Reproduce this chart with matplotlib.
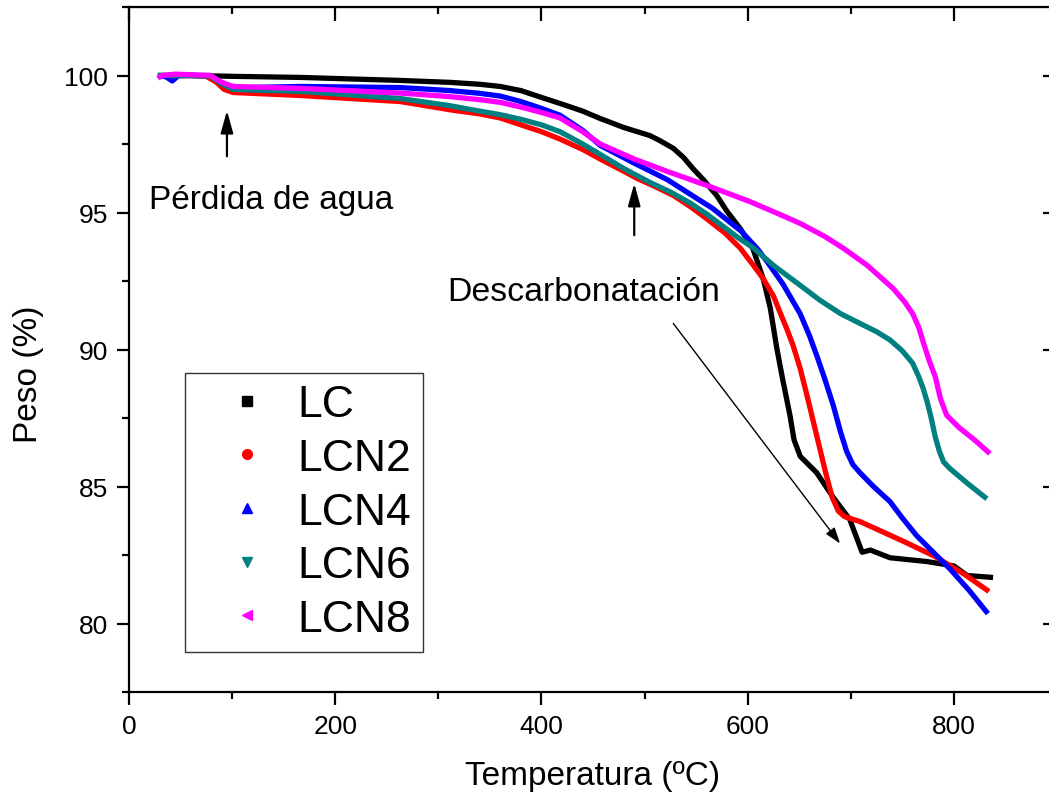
import matplotlib
matplotlib.use("Agg")
import matplotlib.pyplot as plt
from matplotlib.lines import Line2D
from matplotlib.ticker import MultipleLocator

plt.rcParams["font.family"] = ["Liberation Sans", "DejaVu Sans"]

# ----------- data -----------
lc_x = [28, 60, 100, 166, 263, 311, 340, 360, 380, 400, 418, 440, 457, 480, 505, 515, 528,
        538, 547, 557, 570, 580, 593, 605, 615, 622, 628, 634, 641, 645, 651, 667, 683,
        699, 705, 711, 719, 738, 774, 800, 813, 838]
lc_y = [100.0, 100.0, 99.97, 99.93, 99.82, 99.75, 99.68, 99.6, 99.45, 99.2, 98.98, 98.7,
        98.43, 98.1, 97.81, 97.62, 97.34, 97.0, 96.6, 96.2, 95.62, 95.04, 94.4, 93.69,
        92.59, 91.5, 90.1, 88.9, 87.6, 86.7, 86.1, 85.5, 84.6, 83.8, 83.2, 82.6, 82.68,
        82.4, 82.26, 82.1, 81.75, 81.68]

lcn2_x = [28, 60, 75, 85, 92, 101, 166, 263, 311, 340, 360, 380, 400, 418, 440, 457, 475,
          493, 510, 528, 545, 560, 578, 593, 605, 615, 625, 631, 638, 644, 651, 659, 667,
          675, 682, 688, 694, 709, 751, 780, 810, 834]
lcn2_y = [100.0, 100.0, 99.97, 99.75, 99.5, 99.38, 99.27, 99.05, 98.75, 98.6, 98.45, 98.2,
          97.95, 97.68, 97.3, 96.95, 96.6, 96.24, 95.95, 95.62, 95.2, 94.78, 94.25, 93.69,
          93.1, 92.59, 91.95, 91.39, 90.75, 90.15, 89.3, 88.1, 86.85, 85.6, 84.6, 84.1,
          83.9, 83.72, 83.0, 82.48, 81.8, 81.17]

lcn4_x = [28, 36, 42, 48, 79, 90, 101, 166, 263, 311, 340, 360, 380, 400, 418, 440, 457,
          490, 522, 545, 566, 594, 610, 619, 634, 651, 660, 667, 675, 683, 690, 696, 702,
          709, 722, 738, 750, 764, 780, 796, 815, 833]
lcn4_y = [100.0, 99.95, 99.8, 100.0, 100.0, 99.7, 99.55, 99.6, 99.56, 99.45, 99.35, 99.25,
          99.05, 98.8, 98.55, 98.0, 97.45, 96.8, 96.2, 95.65, 95.15, 94.31, 93.65, 93.2,
          92.4, 91.3, 90.5, 89.78, 88.9, 87.96, 87.0, 86.28, 85.8, 85.5, 85.0, 84.45,
          83.85, 83.2, 82.6, 82.0, 81.2, 80.36]

lcn6_x = [28, 60, 79, 90, 101, 166, 263, 311, 340, 360, 380, 400, 418, 440, 457, 480, 505,
          525, 544, 560, 576, 590, 605, 625, 651, 670, 690, 709, 725, 738, 750, 760, 766,
          770, 774, 778, 782, 786, 790, 796, 812, 832]
lcn6_y = [100.0, 100.0, 99.98, 99.7, 99.49, 99.42, 99.16, 98.9, 98.7, 98.57, 98.4, 98.2,
          97.95, 97.5, 97.12, 96.6, 96.1, 95.75, 95.35, 94.95, 94.5, 94.1, 93.72, 93.07,
          92.34, 91.8, 91.31, 90.95, 90.65, 90.35, 89.95, 89.5, 89.0, 88.6, 88.1, 87.5,
          86.8, 86.28, 85.9, 85.66, 85.15, 84.55]

lcn8_x = [28, 32, 45, 79, 90, 101, 166, 263, 311, 340, 360, 380, 400, 418, 440, 457, 490,
          522, 561, 602, 630, 651, 675, 693, 716, 741, 752, 760, 766, 770, 776, 782, 787,
          793, 805, 820, 835]
lcn8_y = [99.9, 100.0, 100.05, 100.0, 99.75, 99.6, 99.53, 99.36, 99.23, 99.12, 99.02,
          98.85, 98.65, 98.45, 97.95, 97.5, 96.95, 96.5, 95.98, 95.4, 94.95, 94.6, 94.12,
          93.69, 93.07, 92.23, 91.75, 91.31, 90.8, 90.3, 89.6, 89.0, 88.2, 87.6, 87.15,
          86.7, 86.2]

labels = ["LC", "LCN2", "LCN4", "LCN6", "LCN8"]
colors = ["#000000", "#ff0000", "#0000ff", "#008080", "#ff00ff"]
markers = ["s", "o", "^", "v", "<"]

# ----------- plotting -----------
fig = plt.figure(figsize=(10.49, 8.04), dpi=100)
ax = fig.add_axes([129 / 1049, 111 / 804, 928 / 1049, 685 / 804])

series = [(lc_x, lc_y), (lcn2_x, lcn2_y), (lcn4_x, lcn4_y), (lcn6_x, lcn6_y), (lcn8_x, lcn8_y)]
for (xs, ys), c in zip(series, colors):
    ax.plot(xs, ys, color=c, lw=3.8, solid_capstyle="butt", solid_joinstyle="round")

ax.set_xlim(0, 900)
ax.set_ylim(77.5, 102.5)
ax.xaxis.set_major_locator(MultipleLocator(200))
ax.xaxis.set_minor_locator(MultipleLocator(100))
ax.yaxis.set_major_locator(MultipleLocator(5))
ax.yaxis.set_minor_locator(MultipleLocator(2.5))

for s in ax.spines.values():
    s.set_linewidth(1.6)
ax.tick_params(which="both", direction="out", width=1.6, labelsize=19,
               top=False, right=False)
ax.tick_params(which="major", length=9)
ax.tick_params(which="minor", length=5)
ax.tick_params(axis="x", pad=7)
ax.tick_params(axis="y", pad=6)

# inward ticks on top / right
ax2 = ax.secondary_xaxis("top")
ax2.xaxis.set_major_locator(MultipleLocator(200))
ax2.xaxis.set_minor_locator(MultipleLocator(100))
ax2.tick_params(which="both", direction="in", width=1.6, labeltop=False)
ax2.tick_params(which="major", length=10)
ax2.tick_params(which="minor", length=5)
ax3 = ax.secondary_yaxis("right")
ax3.yaxis.set_major_locator(MultipleLocator(5))
ax3.yaxis.set_minor_locator(MultipleLocator(2.5))
ax3.tick_params(which="both", direction="in", width=1.6, labelright=False)
ax3.tick_params(which="major", length=10)
ax3.tick_params(which="minor", length=5)

ax.set_xlabel("Temperatura (ºC)", fontsize=24)
ax.set_ylabel("Peso (%)", fontsize=24)
ax.xaxis.set_label_coords(0.5, -0.099)
ax.yaxis.set_label_coords(-0.0915, 0.466)

# annotations
ax.text(19.5, 95.15, "Pérdida de agua", fontsize=24, ha="left", va="baseline")
ax.text(309, 91.79, "Descarbonatación", fontsize=24.4, ha="left", va="baseline")
up = dict(arrowstyle="-|>,head_length=0.9,head_width=0.25", color="black",
          lw=1.6, mutation_scale=15, shrinkA=0, shrinkB=0)
ax.annotate("", xy=(95, 98.72), xytext=(95, 97.05), arrowprops=up)
ax.annotate("", xy=(490, 96.06), xytext=(490, 94.17), arrowprops=up)
diag = dict(arrowstyle="-|>,head_length=0.65,head_width=0.22", color="black",
            lw=1.0, mutation_scale=15, shrinkA=0, shrinkB=0)
ax.annotate("", xy=(689.6, 82.92), xytext=(527.9, 90.95), arrowprops=diag)

handles = [Line2D([], [], ls="none", marker=m, color=c, markersize=7)
           for m, c in zip(markers, colors)]
leg = ax.legend(handles, labels, loc="upper left", bbox_to_anchor=(0.0603, 0.466),
                borderaxespad=0, fontsize=32, frameon=True, fancybox=False,
                edgecolor="#333333", framealpha=1, handlelength=2.27,
                handletextpad=0.0, labelspacing=0.285, borderpad=0.26)
leg.get_frame().set_linewidth(1.0)

fig.savefig("out.png", dpi=100)
